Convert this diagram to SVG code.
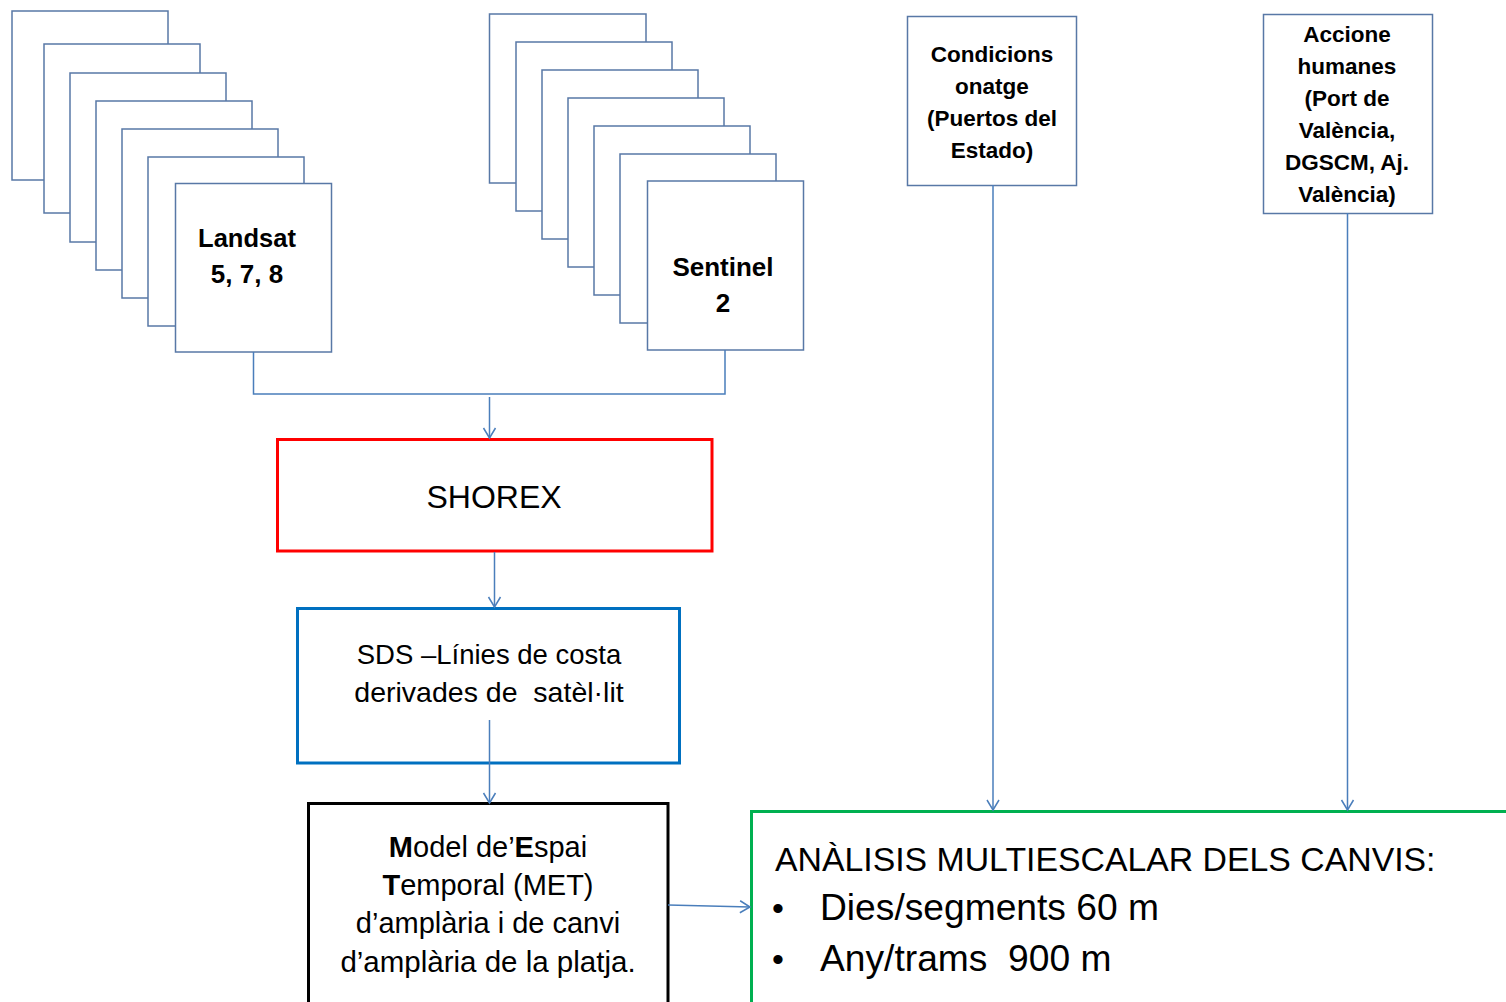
<svg xmlns="http://www.w3.org/2000/svg" width="1506" height="1002" viewBox="0 0 1506 1002">
<defs>
<style>
.st{fill:#fff;stroke:#5878a6;stroke-width:1.5}
.b{font-family:"Liberation Sans",Arial,sans-serif;font-weight:bold;fill:#000;text-anchor:middle}
.r{font-family:"Liberation Sans",Arial,sans-serif;fill:#000}
.c{fill:none;stroke:#4a7ebb;stroke-width:1.5}
</style>
<marker id="ah" viewBox="-12 -8 14 16" refX="0" refY="0" markerWidth="14" markerHeight="16" markerUnits="userSpaceOnUse" orient="auto">
<path d="M-10,-6 L0,0 L-10,6" fill="none" stroke="#4a7ebb" stroke-width="1.5"/>
</marker>
</defs>
<rect width="1506" height="1002" fill="#fff"/>

<g id="landsat">
<rect class="st" x="12" y="11" width="156" height="169"/>
<rect class="st" x="44" y="44" width="156" height="169"/>
<rect class="st" x="70" y="73" width="156" height="169"/>
<rect class="st" x="96" y="101" width="156" height="169"/>
<rect class="st" x="122" y="129" width="156" height="169"/>
<rect class="st" x="148" y="157" width="156" height="169"/>
<rect class="st" x="175.5" y="183.5" width="156" height="168.5"/>
<text class="b" font-size="25.5" x="247" y="247">Landsat</text>
<text class="b" font-size="26" x="247" y="283">5, 7, 8</text>
</g>

<g id="sentinel">
<rect class="st" x="489.5" y="14" width="156.5" height="169"/>
<rect class="st" x="516" y="42" width="156" height="169"/>
<rect class="st" x="542" y="70" width="156" height="169"/>
<rect class="st" x="568" y="98" width="156" height="169"/>
<rect class="st" x="594" y="126" width="156" height="169"/>
<rect class="st" x="620" y="154" width="156" height="169"/>
<rect class="st" x="647.5" y="181" width="156" height="169"/>
<text class="b" font-size="26" x="723" y="276">Sentinel</text>
<text class="b" font-size="26" x="723" y="312">2</text>
</g>

<g id="condicions">
<rect class="st" x="907.5" y="16.5" width="169" height="169"/>
<text class="b" font-size="22.5" x="992" y="62">Condicions</text>
<text class="b" font-size="22.5" x="992" y="94">onatge</text>
<text class="b" font-size="22.5" x="992" y="126">(Puertos del</text>
<text class="b" font-size="22.5" x="992" y="158">Estado)</text>
</g>

<g id="accione">
<rect class="st" x="1263.5" y="14.5" width="169" height="199"/>
<text class="b" font-size="22.5" x="1347" y="42">Accione</text>
<text class="b" font-size="22.5" x="1347" y="74">humanes</text>
<text class="b" font-size="22.5" x="1347" y="106">(Port de</text>
<text class="b" font-size="22.5" x="1347" y="138">València,</text>
<text class="b" font-size="22.5" x="1347" y="170">DGSCM, Aj.</text>
<text class="b" font-size="22.5" x="1347" y="202">València)</text>
</g>

<g id="shorex">
<rect x="277.5" y="439.5" width="434.5" height="111.5" fill="#fff" stroke="#ff0000" stroke-width="3"/>
<text class="r" font-size="32" x="494" y="508" text-anchor="middle">SHOREX</text>
</g>

<g id="sds">
<rect x="297.5" y="608.5" width="382" height="154.5" fill="#fff" stroke="#0070c0" stroke-width="3"/>
<text class="r" font-size="27.5" x="489" y="664" text-anchor="middle">SDS –Línies de costa</text>
<text class="r" font-size="28.5" x="489" y="702" text-anchor="middle" xml:space="preserve">derivades de  satèl·lit</text>
</g>

<g id="met">
<rect x="308.5" y="803.5" width="359.5" height="210" fill="#fff" stroke="#000" stroke-width="3"/>
<text class="r" font-size="29" x="488" y="857" text-anchor="middle"><tspan font-weight="bold">M</tspan>odel de’<tspan font-weight="bold">E</tspan>spai</text>
<text class="r" font-size="29" x="488" y="895" text-anchor="middle"><tspan font-weight="bold">T</tspan>emporal (MET)</text>
<text class="r" font-size="29" x="488" y="933" text-anchor="middle">d’amplària i de canvi</text>
<text class="r" font-size="29.5" x="488" y="972" text-anchor="middle">d’amplària de la platja.</text>
</g>

<g id="analisis">
<rect x="751.5" y="811.5" width="770" height="210" fill="#fff" stroke="#00b050" stroke-width="3"/>
<text class="r" font-size="33.8" x="775" y="871">ANÀLISIS MULTIESCALAR DELS CANVIS:</text>
<text class="r" font-size="34" x="772" y="920">•</text>
<text class="r" font-size="37.2" x="820" y="920">Dies/segments 60 m</text>
<text class="r" font-size="34" x="772" y="971">•</text>
<text class="r" font-size="37.2" x="820" y="971" xml:space="preserve">Any/trams  900 m</text>
</g>

<g id="connectors">
<path class="c" d="M253.5,352 V394 H725 V350"/>
<path class="c" d="M489.5,397 V438" marker-end="url(#ah)"/>
<path class="c" d="M494.5,552 V607" marker-end="url(#ah)"/>
<path class="c" d="M489.5,720 V803" marker-end="url(#ah)"/>
<path class="c" d="M668,905 L750,907" marker-end="url(#ah)"/>
<path class="c" d="M993,185 V810" marker-end="url(#ah)"/>
<path class="c" d="M1347.5,213 V810" marker-end="url(#ah)"/>
</g>
</svg>
